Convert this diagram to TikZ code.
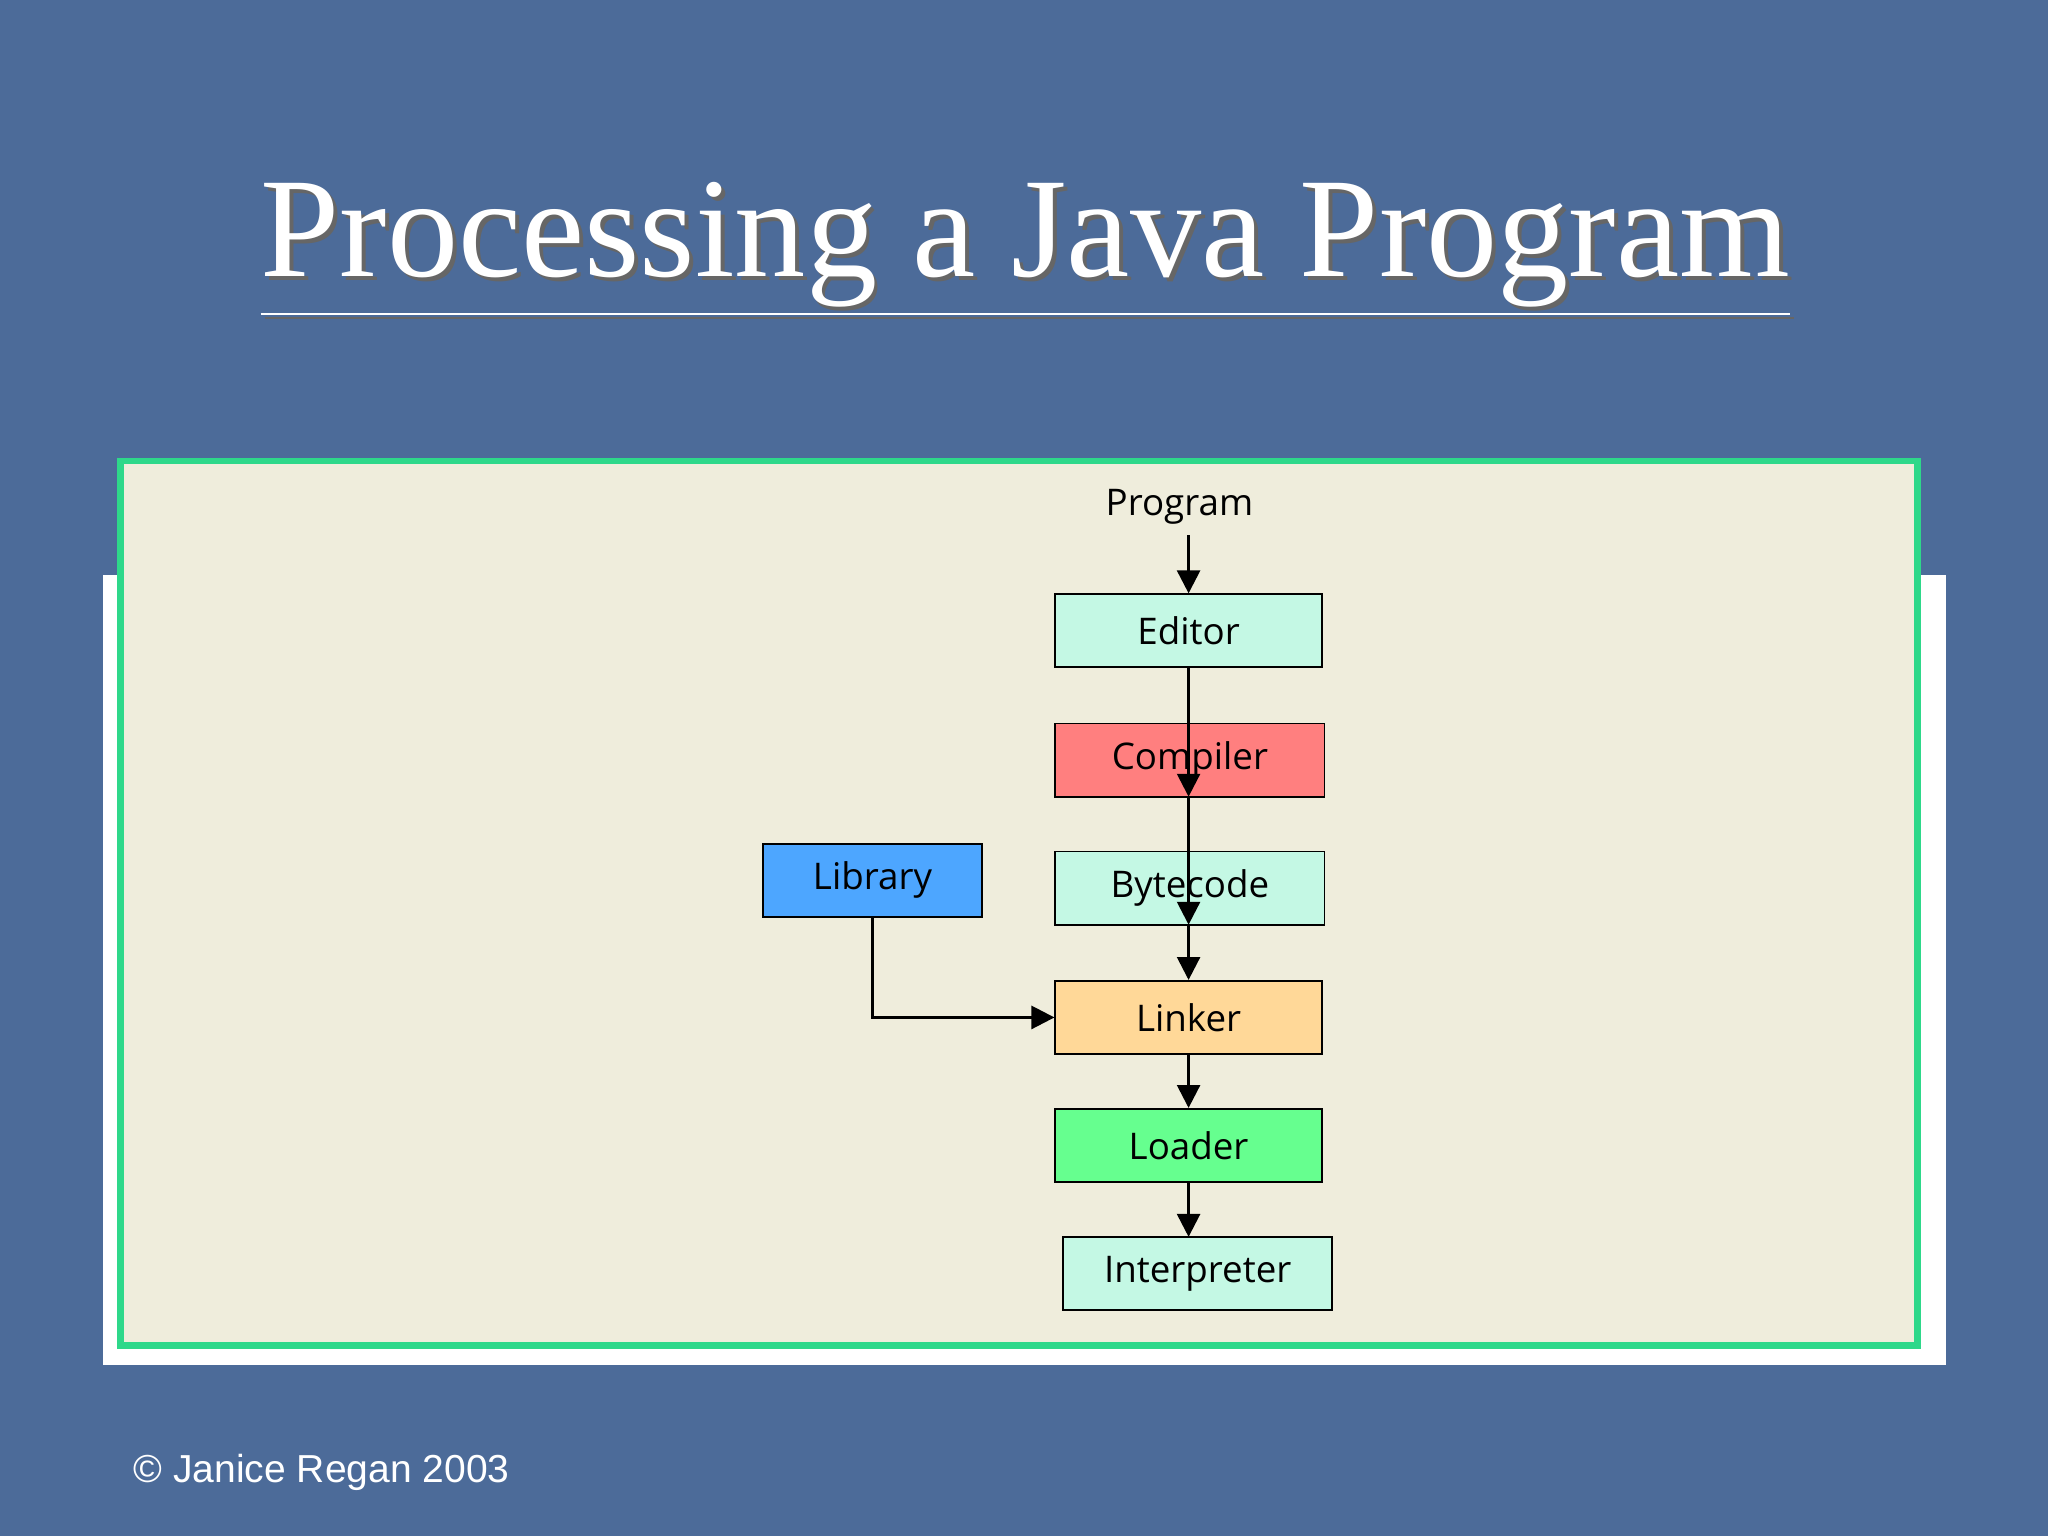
\documentclass[tikz,border=0pt]{standalone}
\usepackage{fontspec}
\setmainfont{Liberation Serif}
\newfontfamily\boxfont{Open Sans}
\newfontfamily\notefont{Liberation Sans}
\usetikzlibrary{positioning,arrows.meta}
\definecolor{slide}{HTML}{4C6B99}
\definecolor{frame}{HTML}{2ED88A}
\definecolor{paper}{HTML}{EFEDDC}
\definecolor{mint}{HTML}{C4F8E4}
\definecolor{salmon}{HTML}{FF7F7F}
\definecolor{sky}{HTML}{4DA6FF}
\definecolor{peach}{HTML}{FFD898}
\definecolor{lime}{HTML}{66FF8F}
\tikzset{
  stage/.style={draw=black, thin, minimum width=2.04cm, minimum height=0.56cm, font=\boxfont\fontsize{8}{9}\selectfont, inner sep=0pt},
  flow/.style={-{Triangle[length=5pt,width=5pt]}, semithick}
}
\begin{document}
\begin{tikzpicture}
  \useasboundingbox (0,0) rectangle (15.68,11.76);
  \fill[slide] (0,0) rectangle (15.68,11.76);
  % white card and frame
  \fill[white] (0.79,7.36) rectangle (14.90,1.31);
  \draw[frame, line width=1.5pt, fill=paper] (0.92,8.23) rectangle (14.68,1.46);

  % title
  \node[text=black!60, font=\fontsize{31}{36}\selectfont] at (7.88,9.82) {\underline{Processing a Java Program}};
  \node (title) [text=white, font=\fontsize{31}{36}\selectfont] at (7.85,9.85) {\underline{Processing a Java Program}};

  % stages
  \node (prog) [font=\boxfont\fontsize{8}{9}\selectfont] at (9.03,7.88) {Program};
  \node (edit) [stage, fill=mint] at (9.10,6.93) {Editor};
  \node (comp) [stage, fill=salmon, minimum width=2.06cm] at (9.11,5.94) {Compiler};
  \node (byte) [stage, fill=mint, minimum width=2.06cm] at (9.11,4.96) {Bytecode};
  \node (link) [stage, fill=peach] at (9.10,3.97) {Linker};
  \node (load) [stage, fill=lime] at (9.10,2.99) {Loader};
  \node (intp) [stage, fill=mint, minimum width=2.06cm] at (9.17,2.01) {Interpreter};
  \node (lib) [stage, fill=sky, minimum width=1.68cm] at (6.68,5.02) {Library};

  % connectors
  \draw[flow] (9.10,7.66) -- (edit.north);
  \draw[flow] (edit) -- (9.10,5.66);
  \draw[flow] (9.10,5.66) -- (9.10,4.68);
  \draw[flow] (9.10,4.68) -- (link.north);
  \draw[flow] (link) -- (load);
  \draw[flow] (load.south) -- (9.10,2.29);
  \draw[flow] (lib.south) |- (link.west);

  \node (copy) [anchor=west, text=white, font=\notefont\fontsize{8.5}{10}\selectfont] at (0.90,0.49) {© Janice Regan 2003};
\end{tikzpicture}
\end{document}
